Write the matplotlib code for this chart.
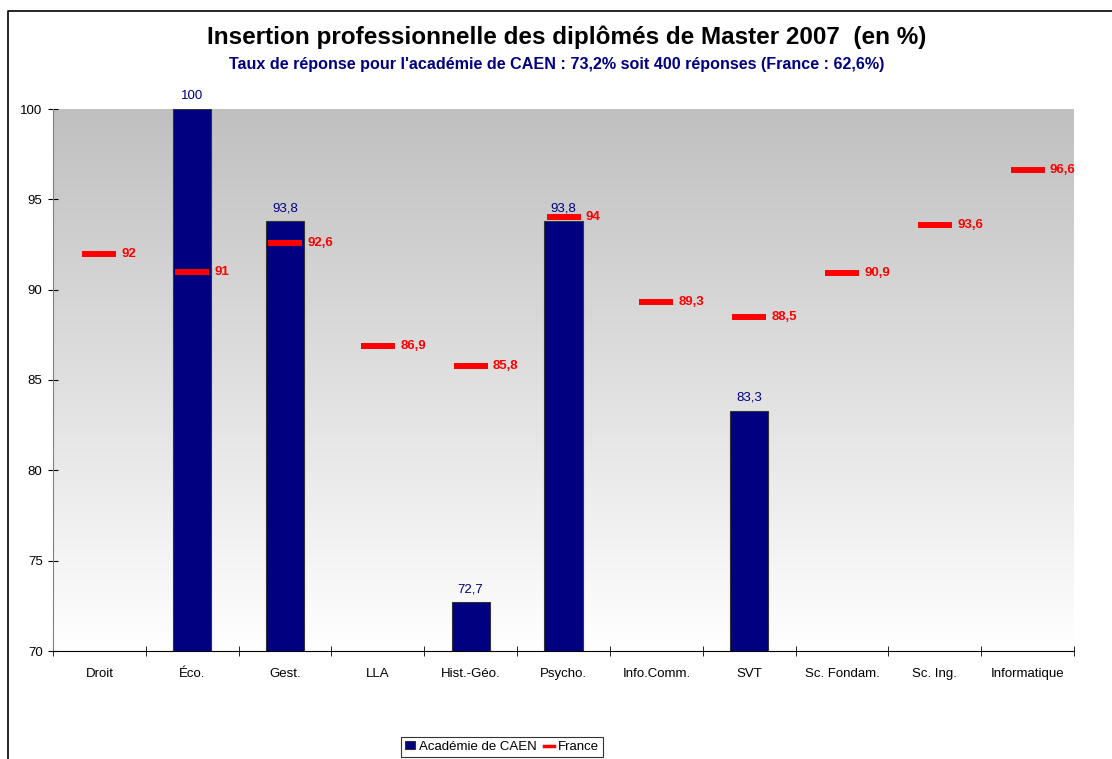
import matplotlib.pyplot as plt
import numpy as np
from matplotlib.lines import Line2D
from matplotlib.colors import LinearSegmentedColormap

plt.rcParams["font.family"] = ["Liberation Sans", "DejaVu Sans"]

categories = ["Droit", "Éco.", "Gest.", "LLA", "Hist.-Géo.", "Psycho.",
              "Info.Comm.", "SVT", "Sc. Fondam.", "Sc. Ing.", "Informatique"]
caen = [np.nan, 100, 93.8, np.nan, 72.7, 93.8, np.nan, 83.3, np.nan, np.nan, np.nan]
france = [92, 91, 92.6, 86.9, 85.8, 94, 89.3, 88.5, 90.9, 93.6, 96.6]
y_ticks = [70, 75, 80, 85, 90, 95, 100]

NAVY = "#000080"
RED = "#ff0000"


def fr(v):
    return f"{v:g}".replace(".", ",")


fig = plt.figure(figsize=(11.12, 7.59), dpi=100)
ax = fig.add_axes([53 / 1112, 1 - 651 / 759, (1074 - 53) / 1112, (651 - 109) / 759])

x = np.arange(len(categories))
ax.set_xlim(-0.5, len(categories) - 0.5)
ax.set_ylim(70, 100)

# gradient background: gray at top to white at bottom
grad = np.linspace(0, 1, 256).reshape(-1, 1)
ax.imshow(grad, extent=(-0.5, len(categories) - 0.5, 70, 100), aspect="auto",
          cmap=LinearSegmentedColormap.from_list("bg", ["#ffffff", "#c0c0c0"]),
          origin="lower", zorder=0)

bars = ax.bar(x, caen, width=0.41, color=NAVY, edgecolor="#333333", linewidth=0.8,
              zorder=2, label="Académie de CAEN")
line, = ax.plot(x, france, linestyle="none", marker="_", markersize=24.5,
                markeredgewidth=4.3, color=RED, zorder=3, label="France")

for xi, v in zip(x, caen):
    if not np.isnan(v):
        ax.annotate(fr(v), (xi, v), xytext=(0, 5), textcoords="offset points",
                    ha="center", va="bottom", color=NAVY, fontsize=9.5,
                    annotation_clip=False)
for xi, v in zip(x, france):
    ax.annotate(fr(v), (xi + 0.18, v), xytext=(4, 0), textcoords="offset points",
                ha="left", va="center", color=RED, fontsize=9.5, fontweight="bold",
                zorder=4)

ax.set_yticks(y_ticks)
ax.set_yticklabels([str(t) for t in y_ticks], fontsize=9.5)
ax.set_xticks(x)
ax.set_xticklabels(categories, fontsize=9.5)
ax.tick_params(axis="x", length=0, pad=12)
ax.set_xticks(np.arange(len(categories) + 1) - 0.5, minor=True)
ax.tick_params(axis="x", which="minor", length=7, direction="inout", color="black")
ax.tick_params(axis="y", length=7, direction="inout", pad=4)

for side in ["top", "right"]:
    ax.spines[side].set_visible(False)
ax.spines["left"].set_color("#808080")
ax.spines["bottom"].set_color("black")
ax.spines["bottom"].set_zorder(5)

fig.text(567 / 1112, 1 - 37 / 759,
         "Insertion professionnelle des diplômés de Master 2007  (en %)",
         ha="center", va="center", fontsize=17.5, fontweight="bold")
fig.text(557 / 1112, 1 - 65 / 759,
         "Taux de réponse pour l'académie de CAEN : 73,2% soit 400 réponses (France : 62,6%)",
         ha="center", va="center", fontsize=11.6, fontweight="bold", color=NAVY)

leg = fig.legend([bars, line], ["Académie de CAEN", "France"],
                 loc="upper center", bbox_to_anchor=(502 / 1112, 1 - 737 / 759),
                 ncol=2, fontsize=9.5, frameon=True, fancybox=False,
                 edgecolor="black", handlelength=0.7, handleheight=0.6,
                 handletextpad=0.3, columnspacing=0.6, borderpad=0.3,
                 borderaxespad=0)
leg.get_frame().set_linewidth(0.8)
for h in leg.legend_handles:
    if isinstance(h, Line2D):
        h.set_marker("None")
        h.set_linestyle("-")
        h.set_linewidth(2.5)

# outer chart border (top and left)
fig.add_artist(Line2D([8 / 1112, 8 / 1112, 1.0], [0.0, 1 - 11 / 759, 1 - 11 / 759],
                      transform=fig.transFigure, color="black", linewidth=1.2))

fig.savefig("out.png", dpi=100)
